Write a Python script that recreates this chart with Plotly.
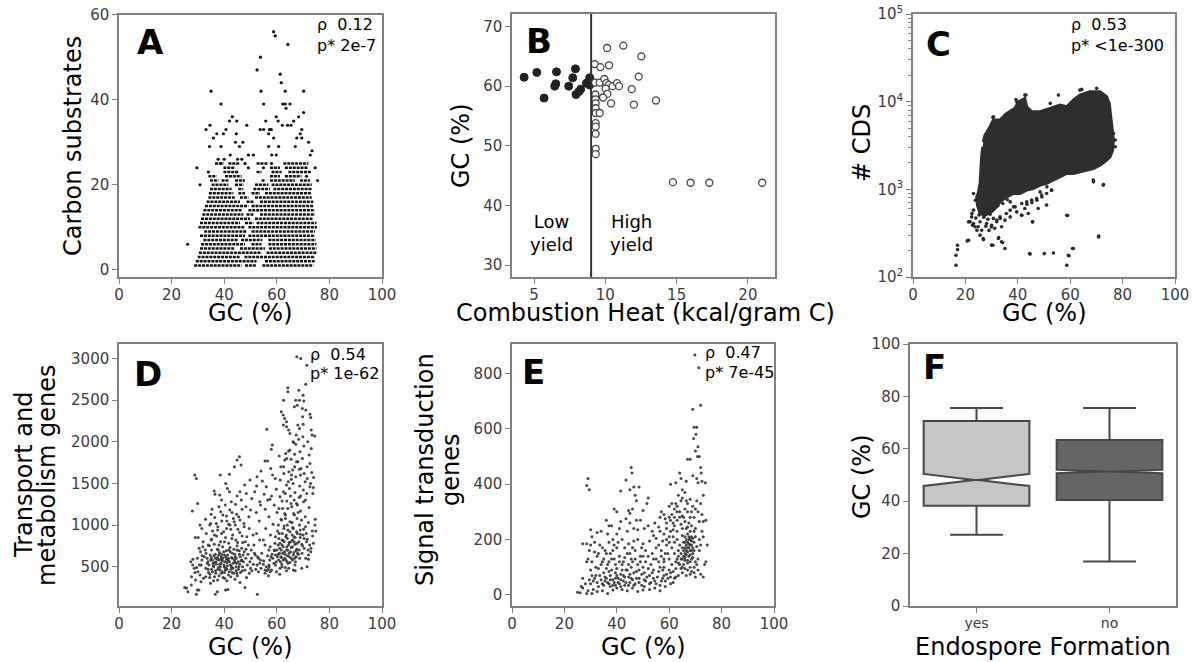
import plotly.graph_objects as go

W, H = 1198, 662
FONT = "DejaVu Sans"
TICK_COLOR = "#3c3c3c"
FRAME_COLOR = "#808080"

# ---- panel A: carbon substrates vs GC (rows of integer counts) ----
A_ROW_SEGMENTS = {
    1: [(28.6, 46.6), (47.9, 52.0), (54.5, 73.9)],
    2: [(29.2, 52.3), (55.5, 74.8)],
    3: [(29.9, 46.0), (47.7, 74.5)],
    4: [(30.4, 54.2), (56.1, 75.1)],
    5: [(30.8, 44.1), (46.0, 55.5), (57.0, 75.1)],
    6: [(31.2, 47.9), (50.4, 54.2), (56.8, 75.1)],
    7: [(32.1, 45.4), (46.4, 54.5), (56.8, 74.8)],
    8: [(30.8, 47.9), (49.2, 74.5)],
    9: [(32.4, 48.5), (50.4, 74.5)],
    10: [(30.2, 47.9), (49.2, 75.3)],
    11: [(30.8, 46.0), (47.9, 51.1), (52.3, 75.1)],
    12: [(31.2, 49.8), (51.7, 73.9)],
    13: [(31.7, 47.3), (48.5, 51.1), (53.6, 74.5)],
    14: [(32.1, 46.6), (49.2, 74.5)],
    15: [(32.7, 49.2), (50.4, 73.9)],
    16: [(33.3, 46.0), (48.5, 51.1), (53.6, 73.9)],
    17: [(34.0, 44.1), (46.0, 49.2), (51.7, 73.3)],
    18: [(34.2, 43.5), (45.4, 47.9), (50.4, 53.6), (55.5, 73.3)],
    19: [(34.6, 42.8), (45.4, 47.3), (51.1, 57.4), (58.7, 73.3)],
    20: [(35.2, 41.6), (44.1, 47.3), (51.7, 56.8), (58.0, 73.3)],
    21: [(34.6, 37.8), (39.0, 41.6), (44.1, 47.9), (54.2, 55.5), (57.4, 66.9), (68.8, 72.6)],
    22: [(34.0, 37.1), (40.3, 46.6), (57.4, 61.2), (63.1, 69.4)],
    23: [(39.7, 45.4), (52.3, 54.2), (58.0, 61.8), (64.4, 73.3)],
    24: [(39.7, 44.1), (57.4, 61.2), (63.1, 72.0)],
    25: [(36.5, 39.7), (41.6, 46.0), (52.3, 56.8), (62.5, 72.0)],
}
A_POINTS = [
    (26.1, 6), (30.8, 20), (71.3, 22), (34.0, 23), (49.2, 24), (54.9, 24), (47.9, 25), (58.0, 25),
    (29.6, 24), (33.1, 33), (34.6, 34), (35.0, 42), (34.4, 29), (35.9, 31), (37.2, 32), (38.8, 39),
    (38.8, 29), (39.7, 32), (40.7, 33), (42.0, 35), (43.1, 36), (44.8, 35), (44.6, 32), (44.3, 30),
    (45.8, 29), (47.1, 30), (48.6, 34), (49.2, 27), (51.1, 27), (52.5, 47), (53.8, 50), (54.0, 42),
    (55.0, 39), (53.7, 33), (55.0, 33), (55.8, 35), (56.9, 32), (57.2, 33), (57.9, 33), (58.8, 56),
    (59.4, 55), (59.8, 36), (60.5, 35), (61.3, 46), (61.7, 44), (62.1, 34), (62.3, 39), (63.2, 39),
    (63.2, 42), (63.5, 38), (64.2, 53), (65.0, 39), (64.1, 34), (65.4, 34), (66.4, 35), (68.3, 36),
    (70.2, 42), (70.2, 37), (69.5, 33), (68.9, 32), (69.5, 31), (72.1, 30), (73.4, 28), (75.5, 21),
    (74.6, 24), (72.7, 27), (67.6, 31), (67.0, 29), (60.7, 29), (58.8, 31), (58.1, 27), (59.8, 27),
    (56.9, 29), (46.7, 26), (45.1, 26), (42.3, 27), (40.0, 26), (38.8, 25), (37.7, 26),
]

# ---- panel B: combustion heat vs GC ----
B_LOW_HEAT = [4.30, 5.19, 5.70, 6.57, 6.52, 6.45, 7.43, 7.71, 7.90, 7.94, 8.15, 8.27, 8.67, 8.90, 8.90]
B_LOW_GC = [61.5, 62.3, 58.0, 62.4, 60.4, 60.0, 60.0, 61.4, 62.9, 58.6, 59.1, 59.5, 60.5, 61.4, 60.2]
B_HIGH_HEAT = [9.25, 9.65, 10.12, 10.26, 11.26, 12.52, 12.34, 9.28, 9.60, 9.93, 10.07, 10.23, 10.50,
               10.82, 10.96, 10.02, 10.14, 9.84, 9.30, 9.30, 9.32, 10.40, 11.85, 12.00, 13.55, 9.32,
               9.32, 9.60, 9.32, 9.32, 9.32, 9.32, 9.32, 14.74, 15.98, 17.29, 21.0]
B_HIGH_GC = [63.7, 63.2, 66.4, 63.5, 66.8, 65.0, 61.6, 60.6, 60.6, 61.2, 60.5, 60.2, 60.0,
             60.5, 60.0, 59.6, 58.7, 58.1, 58.6, 57.8, 57.1, 57.1, 59.5, 56.9, 57.6, 56.3,
             55.5, 55.5, 53.8, 53.2, 52.0, 49.5, 48.6, 43.9, 43.8, 43.8, 43.8]
B_CUTOFF = 9.0

# ---- panel C: # CDS vs GC (dense core outline + sparse points) ----
C_CORE_GC = [26.8, 27.5, 29.4, 30.7, 33.2, 35.8, 38.9, 40.2, 42.7, 43.4, 45.3, 48.5, 52.3, 56.1,
             58.7, 61.2, 63.7, 67.6, 71.4, 73.9, 74.9, 75.8, 76.5, 76.2, 75.2, 73.9, 71.4, 68.8,
             66.3, 63.7, 61.2, 58.7, 56.1, 53.6, 51.0, 48.5, 45.9, 43.4, 40.8, 38.3, 35.8, 33.2,
             31.9, 30.0, 27.5, 25.6, 24.6, 24.3, 24.9, 25.6, 25.8, 26.2, 26.6]
C_CORE_CDS = [3480, 4160, 5170, 6170, 6170, 7350, 8380, 9980, 10900, 8750, 7670, 7670, 8380, 9150,
              8750, 10430, 11890, 12970, 12970, 11370, 9550, 5650, 3650, 2800, 2350, 2150, 1890, 1730,
              1655, 1585, 1518, 1518, 1390, 1274, 1167, 1117, 1023, 979, 897, 897, 820, 720,
              631, 553, 507, 530, 661, 820, 897, 1167, 1655, 2350, 3055]
C_SPARSE = [
    (16.4, 136), (16.4, 177), (17.0, 230), (17.0, 206), (21.2, 262), (20.7, 258), (21.2, 425),
    (22.7, 389), (24.4, 341), (26.9, 267), (30.5, 230), (32.7, 282), (34.2, 247), (35.1, 211),
    (29.9, 372), (44.7, 183), (50.1, 185), (59.0, 502), (59.5, 175), (58.7, 136), (60.9, 211),
    (70.8, 286), (72.7, 1135), (68.9, 1217), (45.6, 425), (41.5, 507), (43.5, 676), (45.4, 706),
    (47.3, 752), (49.2, 820), (48.5, 935), (51.1, 1067), (52.9, 977), (37.1, 719), (38.4, 631),
    (35.6, 530), (33.3, 464), (32.0, 445), (21.8, 426), (23.1, 408), (24.9, 374), (26.2, 342),
    (26.8, 275), (30.0, 231), (32.6, 275), (33.8, 252), (30.0, 390), (30.7, 466), (33.2, 485),
    (35.1, 445), (37.1, 579), (39.0, 631), (41.5, 690), (43.4, 720), (45.3, 753), (47.2, 787),
    (49.1, 859), (51.0, 897), (52.9, 979), (47.8, 605), (51.0, 661), (44.0, 530), (41.5, 507),
    (45.7, 426), (58.7, 507), (68.8, 1274), (72.6, 1117), (70.9, 294), (44.5, 185), (53.6, 188),
    (59.3, 177), (61.2, 211), (22.4, 485), (23.7, 374), (25.6, 300), (23.1, 579), (25.6, 426),
    (28.1, 408), (31.9, 426), (33.8, 374), (37.1, 485), (39.6, 553), (42.7, 605), (22.5, 530),
    (23.8, 752), (23.1, 895), (42.7, 11890), (55.5, 11890), (63.7, 13550), (70.1, 14190),
    (39.6, 9980), (30.7, 6730), (77.2, 3055), (77.2, 3650), (76.5, 4350), (35.2, 7030),
    (39.3, 10600), (43.1, 11890), (52.4, 9550), (59.3, 8750), (64.4, 13800), (30.5, 6610),
    (27.0, 480), (28.6, 455), (29.4, 520), (26.5, 560), (28.0, 600), (30.9, 600), (32.4, 650),
    (34.3, 690), (36.0, 760), (24.0, 470), (25.2, 510), (27.8, 380), (29.0, 340), (31.2, 360),
]

# ---- panel D: transport and metabolism genes vs GC ----
D_POINTS = [
    (67.6, 3020), (69.1, 3000), (71.4, 2920), (71.0, 2690), (64.2, 2650), (64.2, 2600), (68.4, 2620),
    (70.0, 2560), (62.6, 2500), (67.2, 2500), (68.6, 2500), (70.3, 2490), (67.8, 2440), (66.7, 2420),
    (69.7, 2400), (61.7, 2360), (62.4, 2320), (63.0, 2280), (63.7, 2240), (72.6, 2330), (72.9, 2290),
    (70.0, 2210), (68.0, 2200), (62.5, 2200), (63.7, 2180), (56.2, 2150), (73.1, 2140), (64.5, 2140),
    (65.0, 2100), (73.4, 2080), (74.4, 2070), (69.9, 2060), (68.3, 2030), (71.8, 2000), (66.4, 1990),
    (67.2, 1970), (70.3, 1950), (58.3, 1960), (57.9, 1910), (73.1, 1920), (64.5, 1890), (68.8, 1880),
    (63.4, 1860), (66.8, 1850), (72.3, 1840), (60.9, 1830), (45.8, 1820), (44.9, 1780), (69.7, 1800),
    (65.4, 1790), (63.0, 1780), (55.5, 1770), (56.5, 1770), (67.5, 1760), (72.6, 1740), (46.4, 1720),
    (43.9, 1700), (61.5, 1700), (71.5, 1700), (57.7, 1680), (68.6, 1670), (66.0, 1660), (64.6, 1640),
    (73.3, 1630), (62.7, 1620), (58.4, 1600), (69.0, 1600), (28.8, 1600), (29.4, 1560), (38.5, 1600),
    (42.0, 1610), (67.2, 1580), (74.0, 1570), (59.4, 1560), (65.5, 1550), (61.3, 1540), (54.5, 1530),
    (70.8, 1520), (40.6, 1500), (66.2, 1500), (63.7, 1480), (68.7, 1470), (52.3, 1470), (56.0, 1460),
    (64.8, 1440), (41.2, 1440), (59.8, 1430), (70.1, 1420), (36.2, 1410), (62.5, 1400), (51.6, 1400),
    (66.9, 1390), (73.7, 1380), (36.5, 1370), (48.4, 1380), (55.2, 1370), (38.3, 1360), (65.2, 1350),
    (44.9, 1350), (61.2, 1340), (68.5, 1330), (50.5, 1320), (57.4, 1310), (46.5, 1300), (70.9, 1300),
    (63.8, 1290), (42.7, 1280), (53.5, 1280), (29.9, 1260), (67.5, 1260), (44.3, 1250), (59.0, 1240),
    (40.4, 1240), (38.0, 1220), (65.7, 1220), (48.3, 1220), (72.3, 1210), (62.2, 1200), (35.4, 1190),
    (55.6, 1190), (46.8, 1190), (42.1, 1180), (27.9, 1170), (69.0, 1170), (38.7, 1160), (60.1, 1150),
    (52.2, 1150), (66.4, 1140), (35.0, 1130), (44.7, 1130), (63.3, 1120), (40.9, 1110), (70.8, 1100),
    (57.0, 1100), (49.4, 1100), (36.4, 1090), (67.7, 1080), (74.6, 1070), (43.5, 1080), (32.9, 1070),
    (61.6, 1070), (46.0, 1060), (39.1, 1050), (53.3, 1050), (65.0, 1040), (72.0, 1030), (34.8, 1020),
    (30.8, 1000), (41.7, 1010), (58.6, 1010), (68.6, 1000), (44.2, 1000), (62.8, 990), (47.6, 980),
    (37.6, 980), (66.1, 970), (55.8, 960), (31.5, 960), (70.2, 950), (73.5, 930), (74.8, 930),
    (42.5, 950), (64.2, 940), (60.3, 930), (35.6, 930), (67.5, 920), (39.8, 920), (45.9, 910),
    (52.3, 900), (62.1, 900), (33.2, 900), (69.0, 890), (65.8, 880), (57.6, 880), (43.2, 880),
    (37.1, 870), (29.0, 850), (30.1, 850), (63.4, 860), (48.6, 860), (67.0, 850), (40.5, 850),
    (60.8, 840), (35.2, 830), (71.6, 830), (66.0, 820), (54.9, 820), (44.4, 820), (62.5, 810),
    (38.6, 800), (32.0, 800), (68.4, 800), (64.7, 790), (47.0, 790), (59.3, 780), (73.9, 780),
    (41.7, 780), (36.2, 770), (66.9, 770), (62.0, 760), (51.3, 760), (34.4, 750), (44.9, 750),
    (69.8, 750), (63.8, 740), (39.4, 740), (57.5, 740), (65.5, 730), (42.2, 730), (30.5, 720),
    (61.1, 720), (37.4, 710), (67.6, 710), (48.3, 710), (71.9, 700), (64.2, 700), (35.2, 700),
    (40.8, 690), (59.1, 690), (45.7, 690), (62.9, 680), (72.9, 680), (38.2, 670), (66.5, 670),
    (33.1, 660), (43.1, 660), (54.3, 660), (60.6, 650), (36.6, 650), (68.2, 650), (40.1, 640),
    (47.2, 640), (64.0, 630), (31.6, 630), (44.2, 620), (38.9, 620), (57.8, 620), (61.8, 610),
    (35.1, 610), (41.6, 600), (66.8, 600), (50.4, 600), (28.1, 590), (72.0, 590), (37.5, 590),
    (43.9, 580), (63.5, 580), (46.4, 570), (39.3, 570), (59.8, 560), (33.8, 560), (41.1, 550),
    (36.2, 550), (65.0, 550), (44.7, 540), (53.5, 540), (38.3, 530), (61.9, 530), (31.2, 520),
    (42.4, 520), (48.8, 520), (35.9, 510), (40.0, 500), (57.1, 500), (45.6, 500), (63.2, 490),
    (37.8, 490), (28.6, 480), (43.3, 480), (33.9, 470), (52.0, 470), (66.3, 460), (40.4, 460),
    (46.9, 450), (36.7, 450), (56.2, 450), (59.9, 440), (30.0, 440), (43.0, 430), (38.9, 420),
    (49.5, 420), (34.6, 410), (41.6, 400), (61.1, 410), (45.0, 390), (27.6, 380), (36.3, 380),
    (39.6, 370), (32.1, 360), (48.5, 370), (44.1, 350), (29.1, 340), (37.5, 340), (41.0, 330),
    (31.2, 320), (46.0, 310), (34.8, 300), (27.5, 280), (25.0, 250), (25.7, 245), (26.2, 200),
    (29.4, 170), (29.8, 220), (30.4, 220), (36.6, 170), (37.4, 200), (40.5, 220), (41.4, 225),
    (47.9, 250), (52.6, 170),
    (36.9, 560), (37.4, 610), (38.1, 580), (38.8, 540), (39.5, 600), (40.2, 560), (40.9, 590),
    (41.3, 640), (42.0, 560), (42.8, 610), (43.4, 540), (44.0, 650), (44.6, 600), (45.3, 560),
    (46.1, 620), (39.0, 650), (37.7, 700), (41.8, 700), (43.7, 710), (36.1, 630), (35.5, 580),
    (34.7, 640), (38.4, 460), (40.7, 480), (42.6, 470), (44.5, 450), (39.9, 520), (41.2, 510),
    (37.0, 530), (45.9, 530), (47.3, 560), (48.2, 600), (49.0, 650), (34.2, 520), (33.5, 600),
    (32.8, 700), (31.9, 740), (46.6, 720), (45.1, 790), (42.9, 840), (40.1, 800), (38.0, 760),
    (47.9, 460), (50.0, 480), (51.1, 530), (49.8, 560),
    (60.2, 620), (61.0, 660), (61.7, 700), (62.4, 740), (63.1, 650), (63.8, 700), (64.5, 760),
    (65.2, 680), (65.9, 740), (66.6, 800), (67.3, 690), (62.0, 820), (63.6, 880), (65.0, 920),
    (66.2, 960), (67.8, 900), (68.9, 850), (60.5, 760), (59.0, 700), (58.2, 650), (57.3, 580),
    (58.9, 540), (61.4, 560), (64.8, 620), (66.0, 580), (67.4, 620), (68.5, 700), (69.5, 770),
    (70.4, 840), (71.2, 900), (65.8, 1030), (64.0, 1000), (62.7, 960), (60.9, 900), (59.5, 860),
    (63.3, 1080), (66.7, 1120), (69.4, 1060), (70.9, 980), (68.1, 1150), (62.5, 580), (64.3, 540),
    (66.9, 520), (61.2, 480), (63.7, 450),
    (50.5, 450), (52.5, 520), (54.0, 480), (55.5, 460), (56.8, 470), (53.0, 600), (51.8, 640),
    (55.0, 570), (56.5, 630), (58.0, 460),
    (33.0, 480), (34.0, 430), (35.2, 470), (36.0, 500), (36.8, 420), (37.6, 470), (38.5, 500),
    (39.2, 440), (40.1, 430), (41.0, 470), (41.9, 440), (42.8, 500), (43.6, 420), (44.5, 500),
    (45.4, 470), (46.2, 430), (47.0, 500), (33.6, 540), (34.8, 580), (35.8, 540), (36.6, 600),
    (37.9, 640), (38.7, 590), (39.8, 680), (40.6, 620), (41.5, 580), (42.3, 680), (43.1, 600),
    (44.0, 560), (44.9, 700), (45.8, 650), (46.7, 580), (47.6, 680), (32.4, 620), (31.5, 580),
    (30.6, 520), (29.8, 600), (31.0, 680), (33.9, 760), (35.0, 820), (36.3, 880), (37.5, 940),
    (39.0, 900), (40.9, 960), (42.2, 1000), (43.8, 1040), (45.2, 950), (46.8, 870), (48.0, 800),
    (49.2, 760), (50.3, 700), (51.5, 660), (52.7, 620), (53.8, 580), (54.9, 530), (56.0, 500),
    (57.0, 520), (34.5, 370), (36.0, 330), (38.0, 390), (40.2, 360), (42.5, 380), (44.8, 420),
    (35.5, 440), (33.0, 380), (30.8, 400), (28.9, 430), (28.0, 520), (27.3, 560), (29.5, 490),
    (34.5, 1000), (37.0, 1020), (39.5, 1120), (41.0, 1050), (43.0, 1150), (45.5, 1100), (47.5, 1020),
    (49.5, 960), (51.0, 880), (53.5, 820), (55.5, 760), (57.0, 700), (50.0, 1180), (53.8, 1240),
    (56.5, 1300), (58.0, 1350), (46.0, 1400), (47.8, 1480), (49.8, 1540), (52.5, 1580), (54.0, 1650),
    (39.0, 1300), (42.0, 1400),
    (58.5, 600), (59.5, 640), (60.7, 580), (61.5, 620), (62.2, 660), (63.0, 600), (63.9, 560),
    (64.7, 660), (65.5, 600), (66.3, 640), (67.1, 560), (67.9, 660), (68.7, 600), (69.6, 660),
    (70.4, 720), (71.0, 600), (72.0, 640), (73.0, 720), (60.0, 700), (61.2, 780), (62.8, 800),
    (64.0, 840), (65.3, 800), (66.5, 860), (67.7, 780), (68.9, 940), (70.0, 880), (71.3, 800),
    (72.5, 760), (73.6, 870), (74.5, 1000), (60.6, 1000), (61.8, 1060), (63.0, 1140), (64.2, 1200),
    (65.4, 1260), (66.6, 1300), (67.8, 1240), (69.0, 1350), (70.2, 1280), (71.4, 1380), (72.6, 1460),
    (60.8, 1200), (62.0, 1290), (63.2, 1380), (64.4, 1520), (65.6, 1600), (66.8, 1700), (68.0, 1760),
    (69.2, 1680), (70.4, 1620), (71.6, 1560), (72.8, 1500), (73.9, 1450), (62.6, 1700), (63.8, 1800),
    (65.0, 1900), (66.2, 2000), (67.4, 2080), (68.6, 2160), (69.8, 2300), (71.0, 2380), (59.5, 520),
    (62.0, 500), (64.5, 480), (67.0, 450), (69.5, 480), (71.5, 500), (57.5, 440), (55.5, 420),
    (53.0, 440), (56.8, 390),
]

# ---- panel E: signal transduction genes vs GC ----
E_POINTS = [
    (69.8, 866), (71.3, 820), (72.0, 685), (69.0, 670), (69.5, 605), (70.5, 605), (70.2, 580),
    (69.3, 565), (71.0, 535), (70.0, 520), (71.5, 500), (70.8, 500), (67.0, 490), (68.0, 490),
    (72.0, 460), (72.2, 440), (72.5, 410), (71.0, 405), (73.8, 405), (69.0, 430), (70.5, 420),
    (66.5, 410), (64.0, 440), (64.5, 420), (60.5, 400), (62.5, 405), (45.5, 460), (45.8, 440),
    (43.5, 415), (29.0, 420), (28.5, 395), (29.5, 380), (46.5, 390), (48.5, 390), (45.0, 380),
    (41.5, 375), (47.0, 360), (47.5, 340), (52.0, 350), (51.5, 330), (46.0, 310), (39.0, 310),
    (40.0, 300), (44.5, 305), (45.0, 295), (50.0, 305), (57.0, 300), (58.0, 290), (60.0, 320),
    (61.0, 330), (62.5, 330), (63.5, 360), (65.0, 350), (66.5, 340), (68.0, 345), (70.5, 340),
    (72.0, 330), (73.0, 360), (74.0, 270), (73.0, 265), (71.5, 265), (69.5, 280), (67.0, 300),
    (65.5, 280), (63.0, 300), (60.5, 270), (58.5, 275), (56.5, 280), (54.5, 260), (52.0, 250),
    (49.0, 270), (47.5, 270), (43.5, 275), (41.5, 265), (38.0, 250), (36.0, 270), (30.0, 235),
    (32.5, 225), (34.0, 230), (36.5, 220), (40.0, 220), (44.0, 230), (46.5, 240), (50.5, 240),
    (53.5, 230), (56.0, 245), (59.0, 240), (62.0, 250), (64.5, 255), (67.5, 260), (70.0, 240),
    (72.5, 230), (73.0, 210), (74.5, 180), (74.0, 120), (73.5, 110), (72.0, 75), (73.0, 65),
    (27.0, 185), (28.5, 185), (30.0, 180), (29.0, 130), (28.5, 120), (30.5, 120), (31.5, 155),
    (33.5, 180), (35.5, 160), (37.0, 190), (38.5, 200), (40.5, 190), (42.0, 200), (44.5, 185),
    (46.5, 195), (48.0, 200), (50.0, 185), (52.5, 195), (55.0, 205), (57.5, 195), (60.0, 190),
    (61.5, 210), (63.0, 200), (65.0, 215), (66.5, 180), (67.5, 200), (68.5, 210), (69.5, 190),
    (70.5, 175), (71.5, 160), (67.0, 170), (68.0, 160), (66.0, 150), (67.5, 140), (68.5, 130),
    (69.0, 150), (70.0, 120), (66.0, 125), (65.5, 110), (67.0, 115), (68.0, 100), (69.5, 100),
    (71.0, 90), (64.5, 95), (63.0, 130), (62.0, 150), (61.0, 110), (60.0, 90), (59.0, 75),
    (58.0, 70), (60.5, 65), (62.0, 60), (63.5, 70), (65.0, 80), (66.5, 70), (68.0, 75),
    (70.0, 65), (57.0, 50), (55.0, 40), (53.0, 45), (51.0, 50), (49.5, 35), (47.0, 40),
    (45.0, 45), (43.0, 35), (41.0, 40), (39.0, 45), (37.0, 40), (35.0, 35), (33.0, 30),
    (31.0, 20), (29.0, 15), (27.0, 25), (25.0, 10), (26.0, 8), (28.5, 5), (30.5, 5),
    (32.5, 12), (34.5, 15), (36.5, 5), (38.5, 18), (40.0, 25), (42.0, 20), (44.0, 15),
    (46.0, 25), (48.0, 12), (50.0, 18), (52.5, 20), (54.5, 25), (56.5, 15), (58.5, 30),
    (60.5, 40), (36.0, 60), (37.5, 70), (38.5, 55), (39.5, 80), (40.5, 60), (41.5, 75),
    (42.5, 50), (43.5, 90), (44.5, 65), (45.5, 100), (46.5, 80), (47.5, 60), (48.5, 90),
    (35.0, 80), (34.0, 55), (33.0, 95), (32.0, 70), (31.0, 50), (30.0, 90), (36.5, 110),
    (38.0, 130), (39.5, 110), (41.0, 140), (42.5, 120), (44.0, 150), (45.5, 130), (47.0, 160),
    (49.0, 140), (51.0, 120), (53.0, 110), (55.0, 130), (56.5, 100), (58.0, 120), (59.5, 150),
    (61.0, 170), (32.5, 140), (34.5, 120), (36.0, 150), (38.5, 160), (40.0, 170), (50.5, 80),
    (52.5, 70), (54.0, 60), (56.0, 85), (57.5, 60), (37.5, 30), (39.5, 35), (41.5, 55),
    (43.0, 65), (45.0, 75), (46.0, 55), (48.5, 45), (50.5, 55), (35.5, 50), (37.0, 85),
    (40.0, 95), (42.0, 90), (44.5, 110), (61.5, 85), (62.5, 95), (63.5, 115), (64.5, 130),
    (65.5, 140), (66.5, 160), (67.5, 185), (68.0, 180), (68.5, 195), (69.0, 205), (66.0, 190),
    (65.0, 170), (67.0, 220), (68.0, 230), (63.5, 160), (64.0, 180), (62.0, 190), (66.5, 240),
    (65.0, 240), (63.0, 230), (61.5, 260), (64.0, 280), (66.0, 310), (68.5, 300),
    (30.0, 40), (31.5, 60), (32.5, 45), (33.5, 70), (34.5, 40), (35.5, 65), (36.5, 45),
    (37.5, 55), (38.5, 35), (39.5, 60), (40.5, 45), (41.5, 30), (42.5, 70), (43.5, 45),
    (44.5, 35), (45.5, 60), (46.5, 35), (47.5, 85), (48.5, 60), (49.5, 75), (50.5, 30),
    (51.5, 65), (52.5, 40), (53.5, 80), (54.5, 50), (55.5, 65), (56.5, 35), (57.5, 90),
    (58.5, 50), (59.5, 60), (60.5, 80), (61.5, 45), (62.5, 65), (36.0, 95), (38.0, 90),
    (40.0, 70), (42.0, 110), (44.0, 90), (46.0, 120), (48.0, 110), (50.0, 100), (52.0, 95),
    (54.0, 90), (56.0, 120), (58.0, 100), (60.0, 130), (34.0, 110), (32.0, 100), (30.5, 70),
    (29.5, 55), (28.0, 40), (27.0, 60), (26.5, 30), (34.5, 170), (37.5, 150), (39.0, 180),
    (43.0, 170), (46.0, 170), (49.5, 170), (53.5, 150), (57.0, 160), (59.0, 200), (37.0, 250),
    (41.0, 240), (45.0, 260), (48.0, 235), (54.0, 215), (56.5, 230), (58.0, 220), (60.5, 230),
    (65.5, 190), (66.0, 210), (66.5, 200), (67.0, 190), (67.5, 210), (68.0, 200), (68.5, 180),
    (69.0, 170), (66.0, 170), (67.0, 155), (68.0, 145), (69.0, 135), (65.0, 130), (66.0, 135),
    (67.0, 125), (68.0, 120), (65.5, 160), (67.5, 170), (68.5, 160), (69.5, 160), (66.5, 145),
    (64.5, 150), (63.5, 140), (62.5, 120), (64.0, 110), (65.0, 100), (66.0, 95), (67.0, 90),
    (68.5, 85), (69.5, 80), (70.5, 110), (71.0, 130), (71.5, 200), (72.0, 180), (70.0, 210),
    (69.5, 230), (68.5, 250), (67.0, 245), (66.0, 265), (65.0, 285), (64.0, 300), (63.0, 320),
    (62.0, 310), (61.0, 290), (60.0, 280), (59.0, 260), (72.5, 290), (71.0, 300), (70.0, 310),
    (69.0, 320), (68.0, 280), (67.0, 330), (66.0, 370), (65.0, 380), (64.5, 340), (63.0, 270),
    (62.0, 280), (61.5, 235), (60.0, 210), (59.0, 180), (58.5, 150), (58.0, 130), (57.0, 140),
    (56.0, 180), (55.0, 170), (54.0, 130), (52.0, 140), (51.0, 160), (50.0, 140), (49.0, 120),
    (47.0, 130), (45.0, 150), (43.0, 135), (41.0, 120), (39.0, 130), (37.0, 120), (35.0, 130),
    (33.0, 150), (31.5, 190), (30.5, 210), (29.5, 160),
]

# ---- panel F: GC by endospore formation (box statistics) ----
F_GROUPS = ["yes", "no"]
F_LOWER = [27.2, 17.0]
F_Q1 = [38.3, 40.5]
F_MEDIAN = [48.1, 51.3]
F_Q3 = [70.6, 63.4]
F_UPPER = [75.6, 75.6]
F_NOTCH = [2.3, 0.65]
F_COLORS = ["#c6c6c6", "#666666"]

STATS = {
    "A": ("0.12", "2e-7"),
    "C": ("0.53", "<1e-300"),
    "D": ("0.54", "1e-62"),
    "E": ("0.47", "7e-45"),
}


def px_x(px):
    return px / W


def px_y(py):
    return 1 - py / H


def axis(domain_px, vertical=False, **kw):
    if vertical:
        dom = [px_y(domain_px[1]), px_y(domain_px[0])]
    else:
        dom = [px_x(domain_px[0]), px_x(domain_px[1])]
    base = dict(
        domain=dom,
        automargin=False,
        showline=True,
        mirror=True,
        linecolor=FRAME_COLOR,
        linewidth=1.5,
        ticks="outside",
        ticklen=5,
        tickwidth=1.2,
        tickcolor=FRAME_COLOR,
        showgrid=False,
        zeroline=False,
        tickfont=dict(family=FONT, size=15, color=TICK_COLOR),
    )
    if not vertical:
        base["ticklabelstandoff"] = -2
    base.update(kw)
    return base


def note(text, px, py, size, xanchor="center", yanchor="middle", bold=False, angle=0):
    return dict(
        text=f"<b>{text}</b>" if bold else text,
        x=px_x(px), y=px_y(py), xref="paper", yref="paper",
        xanchor=xanchor, yanchor=yanchor, showarrow=False, textangle=angle,
        font=dict(family=FONT, size=size, color="black"),
    )


fig = go.Figure()

# panel A
row_x, row_y = [], []
for count, segments in A_ROW_SEGMENTS.items():
    for x0, x1 in segments:
        row_x += [x0, x1, None]
        row_y += [count, count, None]
fig.add_trace(go.Scatter(x=row_x, y=row_y, mode="lines", xaxis="x", yaxis="y",
                         line=dict(color="#111111", width=2.6, dash="3px,0.9px")))
fig.add_trace(go.Scatter(x=[p[0] for p in A_POINTS], y=[p[1] for p in A_POINTS], mode="markers",
                         xaxis="x", yaxis="y", marker=dict(color="#111111", size=3.2)))

# panel B
fig.add_trace(go.Scatter(x=B_LOW_HEAT, y=B_LOW_GC, mode="markers", xaxis="x2", yaxis="y2",
                         marker=dict(color="#222222", size=8, line=dict(color="#222222", width=1))))
fig.add_trace(go.Scatter(x=B_HIGH_HEAT, y=B_HIGH_GC, mode="markers", xaxis="x2", yaxis="y2",
                         marker=dict(color="white", size=7, line=dict(color="#444444", width=1.3))))

# panel C
fig.add_trace(go.Scatter(x=C_CORE_GC, y=C_CORE_CDS, mode="lines", fill="toself", xaxis="x3", yaxis="y3",
                         fillcolor="#2e2e2e", line=dict(color="#2e2e2e", width=3)))
fig.add_trace(go.Scatter(x=[p[0] for p in C_SPARSE], y=[p[1] for p in C_SPARSE], mode="markers",
                         xaxis="x3", yaxis="y3", marker=dict(color="#2a2a2a", size=3.6)))

# panel D
fig.add_trace(go.Scatter(x=[p[0] for p in D_POINTS], y=[p[1] for p in D_POINTS], mode="markers",
                         xaxis="x4", yaxis="y4", marker=dict(color="#333333", size=3, opacity=0.9)))

# panel E
fig.add_trace(go.Scatter(x=[p[0] for p in E_POINTS], y=[p[1] for p in E_POINTS], mode="markers",
                         xaxis="x5", yaxis="y5", marker=dict(color="#333333", size=3, opacity=0.9)))

# panel F
for i, group in enumerate(F_GROUPS):
    fig.add_trace(go.Box(
        x=[group], q1=[F_Q1[i]], median=[F_MEDIAN[i]], q3=[F_Q3[i]],
        lowerfence=[F_LOWER[i]], upperfence=[F_UPPER[i]], notchspan=[F_NOTCH[i]],
        notched=True, notchwidth=0.48, width=0.795, whiskerwidth=0.5,
        fillcolor=F_COLORS[i], line=dict(color="#474747", width=2),
        boxpoints=False, xaxis="x6", yaxis="y6",
    ))

annotations = []
letters = {"A": (150, 42), "B": (539, 41), "C": (938, 44), "D": (148, 374), "E": (533, 372), "F": (934, 367)}
for letter, (lx, ly) in letters.items():
    annotations.append(note(letter, lx, ly, 34, bold=True))

stat_pos = {"A": (315, 25, 45), "C": (1069, 25, 45), "D": (308, 354, 373), "E": (703, 353, 372)}
for key, (sx, y1, y2) in stat_pos.items():
    rho, pval = STATS[key]
    annotations.append(note(f"ρ  {rho}", sx, y1, 16, xanchor="left"))
    annotations.append(note(f"p* {pval}", sx, y2, 16, xanchor="left"))

annotations += [
    note("Carbon substrates", 73, 146, 24, angle=-90),
    note("GC (%)", 250, 313, 24),
    note("GC (%)", 461, 146, 24, angle=-90),
    note("Combustion Heat (kcal/gram C)", 645, 313, 24),
    note("# CDS", 862, 143, 24, angle=-90),
    note("GC (%)", 1044, 313, 24),
    note("Transport and", 24, 475, 24, angle=-90),
    note("metabolism genes", 47, 475, 24, angle=-90),
    note("GC (%)", 250, 647, 24),
    note("Signal transduction", 425, 470, 24, angle=-90),
    note("genes", 451, 470, 24, angle=-90),
    note("GC (%)", 643, 647, 24),
    note("GC (%)", 862, 477, 24, angle=-90),
    note("Endospore Formation", 1043, 647, 24),
    note("Low<br>yield", 0, 0, 18),
    note("High<br>yield", 0, 0, 18),
]
# yield labels inside panel B, placed in its data coordinates
annotations[-2].update(x=6.2, y=35.3, xref="x2", yref="y2")
annotations[-1].update(x=11.8, y=35.3, xref="x2", yref="y2")

gc_ticks = [0, 20, 40, 60, 80, 100]
fig.update_layout(
    width=W, height=H,
    autosize=False,
    margin=dict(l=0, r=0, t=0, b=0, pad=0, autoexpand=False),
    paper_bgcolor="white", plot_bgcolor="white",
    showlegend=False,
    font=dict(family=FONT),
    xaxis=axis((119, 382), range=[0, 100], tickvals=gc_ticks, anchor="y"),
    yaxis=axis((14.7, 277), vertical=True, range=[-1.7, 60], tickvals=[0, 20, 40, 60], anchor="x"),
    xaxis2=axis((512, 775), range=[3.45, 21.9], tickvals=[5, 10, 15, 20], anchor="y2"),
    yaxis2=axis((14, 277), vertical=True, range=[28.0, 72.1], tickvals=[30, 40, 50, 60, 70], anchor="x2"),
    xaxis3=axis((913, 1175), range=[0, 100], tickvals=gc_ticks, anchor="y3"),
    yaxis3=axis((14, 277), vertical=True, type="log", range=[2, 5], anchor="x3",
                tickvals=[100, 1000, 10000, 100000],
                ticktext=["10<sup>2</sup>", "10<sup>3</sup>", "10<sup>4</sup>", "10<sup>5</sup>"],
                minor=dict(ticks="outside", ticklen=3, tickcolor=FRAME_COLOR,
                           tickvals=[m * d for d in (100, 1000, 10000) for m in range(2, 10)])),
    xaxis4=axis((119, 382), range=[0, 100], tickvals=gc_ticks, anchor="y4"),
    yaxis4=axis((343.5, 606), vertical=True, range=[28, 3180],
                tickvals=[500, 1000, 1500, 2000, 2500, 3000], anchor="x4"),
    xaxis5=axis((512, 774), range=[0, 100], tickvals=gc_ticks, anchor="y5"),
    yaxis5=axis((344, 606), vertical=True, range=[-40, 906], tickvals=[0, 200, 400, 600, 800], anchor="x5"),
    xaxis6=axis((910, 1176), type="category", range=[-0.5, 1.5], anchor="y6",
                tickfont=dict(family=FONT, size=14, color=TICK_COLOR)),
    yaxis6=axis((344, 606), vertical=True, range=[0, 100], tickvals=[0, 20, 40, 60, 80, 100], anchor="x6"),
    annotations=annotations,
    shapes=[dict(type="line", xref="x2", yref="y2 domain", x0=B_CUTOFF, x1=B_CUTOFF, y0=0, y1=1,
                 line=dict(color="#333333", width=2))],
)

# the page's default body margin would shift the figure; drop it so the
# 1198x662 figure fills the window exactly
fig.write_html(
    "out.html",
    config={"displayModeBar": False},
    post_script="document.body.style.margin='0';document.body.style.overflow='hidden';"
                "document.documentElement.style.overflow='hidden';",
)
